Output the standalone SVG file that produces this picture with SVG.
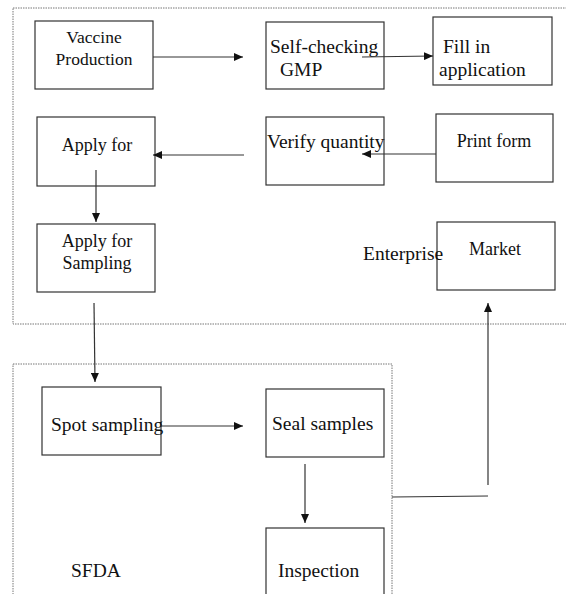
<svg xmlns="http://www.w3.org/2000/svg" width="566" height="594" viewBox="0 0 566 594" font-family="'Liberation Serif', 'Times New Roman', 'DejaVu Serif', serif">
<style>
.box{fill:#fff;stroke:#333;stroke-width:1.2}
.frame{fill:none;stroke:#777;stroke-width:1;stroke-dasharray:1.5 1}
.conn{stroke:#333;stroke-width:1.2;fill:none}
text{font-family:'Liberation Serif','Times New Roman','DejaVu Serif',serif;fill:#111;font-size:19.5px}
.s18{font-size:18px}
.s17{font-size:17.5px}
</style>
<defs>
<marker id="ah" markerUnits="userSpaceOnUse" markerWidth="10" markerHeight="8" refX="9" refY="4" orient="auto">
<path d="M0,0 L9,4 L0,8 Z" fill="#111"/>
</marker>
</defs>
<rect width="566" height="594" fill="#fff"/>
<g id="frame-enterprise"><rect class="frame" x="13" y="8" width="570" height="316"/></g>
<g id="frame-sfda"><rect class="frame" x="13" y="364" width="379" height="250"/></g>
<g id="node-vaccine"><rect class="box" x="35" y="21" width="118" height="68"/><text class="s17" x="94" y="43" text-anchor="middle">Vaccine</text><text class="s17" x="94" y="65" text-anchor="middle">Production</text></g>
<g id="node-selfcheck"><rect class="box" x="266" y="22" width="118" height="67"/><text x="270" y="53">Self-checking</text><text x="280" y="76">GMP</text></g>
<g id="node-fill"><rect class="box" x="433" y="17" width="119" height="68"/><text x="443" y="53">Fill in</text><text x="439" y="76">application</text></g>
<g id="node-applyfor"><rect class="box" x="37" y="117" width="118" height="69"/><text class="s18" x="97" y="151" text-anchor="middle">Apply for</text></g>
<g id="node-verify"><rect class="box" x="266" y="117" width="118" height="68"/><text x="267" y="148">Verify quantity</text></g>
<g id="node-print"><rect class="box" x="436" y="114" width="117" height="68"/><text class="s18" x="494" y="147" text-anchor="middle">Print form</text></g>
<g id="node-applysampling"><rect class="box" x="37" y="224" width="118" height="68"/><text class="s18" x="97" y="247" text-anchor="middle">Apply for</text><text class="s18" x="97" y="269" text-anchor="middle">Sampling</text></g>
<g id="node-market"><rect class="box" x="437" y="222" width="118" height="68"/><text class="s18" x="495" y="255" text-anchor="middle">Market</text></g>
<g id="label-enterprise"><text x="363" y="260">Enterprise</text></g>
<g id="node-spot"><rect class="box" x="42" y="387" width="119" height="68"/><text x="51" y="431">Spot sampling</text></g>
<g id="node-seal"><rect class="box" x="266" y="389" width="118" height="68"/><text x="272" y="430">Seal samples</text></g>
<g id="node-inspection"><rect class="box" x="266" y="528" width="118" height="80"/><text x="278" y="577">Inspection</text></g>
<g id="label-sfda"><text x="71" y="577">SFDA</text></g>
<g id="connectors">
<line class="conn" x1="153" y1="57" x2="243" y2="57" marker-end="url(#ah)"/>
<line class="conn" x1="362" y1="57" x2="433" y2="56" marker-end="url(#ah)"/>
<line class="conn" x1="436" y1="154" x2="362" y2="154" marker-end="url(#ah)"/>
<line class="conn" x1="244" y1="155" x2="153" y2="155" marker-end="url(#ah)"/>
<line class="conn" x1="96" y1="170" x2="96" y2="222" marker-end="url(#ah)"/>
<line class="conn" x1="94" y1="303" x2="95" y2="382" marker-end="url(#ah)"/>
<line class="conn" x1="160" y1="426" x2="243" y2="426" marker-end="url(#ah)"/>
<line class="conn" x1="305" y1="464" x2="305" y2="523" marker-end="url(#ah)"/>
<line class="conn" x1="488" y1="485" x2="488" y2="303" marker-end="url(#ah)"/>
<line class="conn" x1="392" y1="497" x2="488" y2="496"/>
</g>
</svg>
